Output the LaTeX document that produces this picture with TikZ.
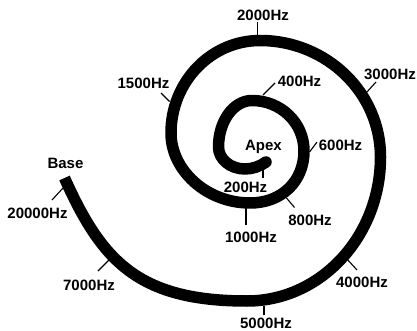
\documentclass[tikz,border=0pt]{standalone}
\usepackage{fontspec}
\setmainfont{Liberation Sans}
\begin{document}
\begin{tikzpicture}[x=1pt,y=-1pt,
  lab/.style={font=\fontsize{15}{18}\selectfont\bfseries, inner sep=0pt, anchor=base},
  tickline/.style={line width=1.1pt, black},
  coil/.style={line width=11.5pt, black, line cap=butt, line join=round}]
\useasboundingbox (0,0) rectangle (417,331);

% spiral
\draw[coil] (266,162) .. controls (260,166.5) and (252,169) .. (245,169)
  .. controls (230.4,169) and (218.5,159.2) .. (218.5,147)
  .. controls (218.5,121.3) and (233.5,100.5) .. (252,100.5)
  .. controls (280.7,100.5) and (304,122.7) .. (304,151)
  .. controls (304,181) and (282,203) .. (250,203)
  .. controls (207,203) and (171,170.6) .. (171,133)
  .. controls (171,81.9) and (210.8,40.5) .. (260,40.5)
  .. controls (326.6,40.5) and (380.5,92.7) .. (380.5,157)
  .. controls (380.5,236.5) and (320.7,301) .. (247,301)
  .. controls (137,301) and (101.4,259.9) .. (64.5,178);
\fill[black] (266,162) circle[radius=5.75pt];

% labels
\node[lab] (apex) at (263.5,150) {Apex};
\node[lab] (base) at (65.5,168) {Base};
\node[lab] (l200) at (245.5,192) {200Hz};
\node[lab] (l400) at (299.5,87) {400Hz};
\node[lab] (l600) at (340.5,150) {600Hz};
\node[lab] (l800) at (310,225) {800Hz};
\node[lab] (l1000) at (251,242) {1000Hz};
\node[lab] (l1500) at (143.5,89) {1500Hz};
\node[lab] (l2000) at (263,20.7) {2000Hz};
\node[lab] (l3000) at (390,80) {3000Hz};
\node[lab] (l4000) at (362,287) {4000Hz};
\node[lab] (l5000) at (266,328.8) {5000Hz};
\node[lab] (l7000) at (89,290) {7000Hz};
\node[lab] (l20000) at (37.5,218) {20000Hz};

% tick end points
\coordinate (s200) at (263,169.5);   \coordinate (e200) at (263,178);
\coordinate (s400) at (263,95);      \coordinate (e400) at (275,83);
\coordinate (s600) at (309.5,152);   \coordinate (e600) at (317,142);
\coordinate (s800) at (286.5,198);   \coordinate (e800) at (294.5,207.5);
\coordinate (s1000) at (246,208);    \coordinate (e1000) at (246,225);
\coordinate (s1500) at (169.5,101.5);\coordinate (e1500) at (161,93);
\coordinate (s2000) at (257.3,35);   \coordinate (e2000) at (257.3,22);
\coordinate (s3000) at (366,93);     \coordinate (e3000) at (376,82);
\coordinate (s4000) at (346,258);    \coordinate (e4000) at (357,270);
\coordinate (s5000) at (264,306);    \coordinate (e5000) at (264,315);
\coordinate (s7000) at (109,260);    \coordinate (e7000) at (98,271);
\coordinate (s20000) at (63,188);    \coordinate (e20000) at (52,200);

\foreach \f in {200,400,600,800,1000,1500,2000,3000,4000,5000,7000,20000}
  \draw[tickline] (s\f) -- (e\f);
\end{tikzpicture}
\end{document}
